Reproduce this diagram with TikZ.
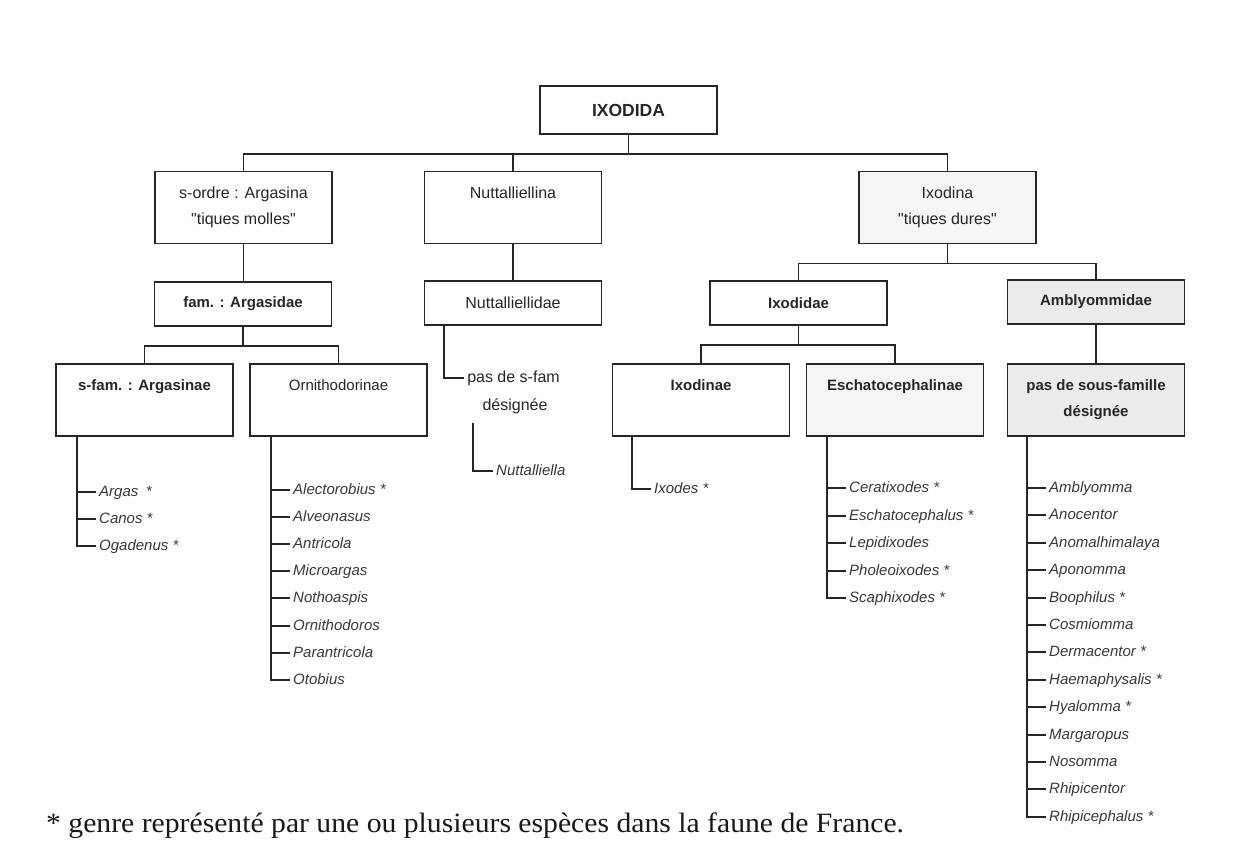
\documentclass[tikz,border=0pt]{standalone}
\usepackage{fontspec}
\setmainfont{Liberation Sans}
\newfontfamily\notefont[FakeStretch=1.06]{Liberation Serif}
\usepackage{tikz}
\usetikzlibrary{positioning,calc}
\tikzstyle{box}=[draw=black!85,line width=1.6pt,minimum width=177pt,minimum height=44pt,align=center,text=black!85,font=\fontsize{16}{26}\selectfont]
\tikzstyle{tall}=[box,minimum height=72pt]
\tikzstyle{heavy}=[font=\fontsize{15}{26}\selectfont\bfseries]
\tikzset{
  link/.style={draw=black!85,line width=1.6pt},
  genus/.style={anchor=west,inner sep=3pt,text=black!78,text height=11pt,text depth=3pt,
    font=\fontsize{15}{18}\selectfont\itshape}
}

\begin{document}
\begin{tikzpicture}[x=1pt,y=-1pt]
    \useasboundingbox [fill=white] (0,0) rectangle (1243,860);

    % boxes
    \node [box,minimum height=48pt,font=\fontsize{17.5}{20}\selectfont\bfseries] (Ixodida) at (628.5,110) {IXODIDA};
    \node [tall] (Argasina) at (243.5,207.5) {s-ordre : Argasina\\\textquotedbl tiques molles\textquotedbl};
    \node [tall] (Nuttalliellina) at (513,207.5) {Nuttalliellina\\\vphantom{p}};
    \node [tall,fill=black!4] (Ixodina) at (947.5,207.5) {Ixodina\\\textquotedbl tiques dures\textquotedbl};
    \node [box,heavy] (Argasidae) at (243,304) {fam. : Argasidae};
    \node [box] (Nuttalliellidae) at (513,303) {Nuttalliellidae};
    \node [box,heavy] (Ixodidae) at (798.5,303) {Ixodidae};
    \node [box,heavy,fill=black!8] (Amblyommidae) at (1096,302) {Amblyommidae};
    \node [tall,heavy] (Argasinae) at (144.5,400) {s-fam. : Argasinae\\\vphantom{p}};
    \node [tall,font=\fontsize{15}{26}\selectfont] (Ornithodorinae) at (338.5,400) {Ornithodorinae\\\vphantom{p}};
    \node [tall,heavy] (Ixodinae) at (701,400) {Ixodinae\\\vphantom{p}};
    \node [tall,heavy,fill=black!4] (Eschatocephalinae) at (895,400) {Eschatocephalinae\\\vphantom{p}};
    \node [tall,heavy,fill=black!8] (Ambsf) at (1096,400) {pas de sous-famille\\désignée};

    % tree
    \coordinate (bar1) at ($(Ixodida.south)+(0,19)$);
    \draw [link] (Ixodida.south) -- (bar1);
    \draw [link] (Argasina.north) |- (bar1) -| (Ixodina.north);
    \draw [link] (Nuttalliellina.north) -- (Nuttalliellina.north |- bar1);
    \draw [link] (Argasina.south) -- (Argasina.south |- Argasidae.north);
    \draw [link] (Nuttalliellina.south) -- (Nuttalliellidae.north);
    \coordinate (bar2) at ($(Argasidae.south)+(0,19)$);
    \draw [link] (Argasidae.south) -- (bar2);
    \draw [link] (Argasinae.north) |- (bar2) -| (Ornithodorinae.north);
    \coordinate (bar3) at ($(Ixodina.south)+(0,19)$);
    \draw [link] (Ixodina.south) -- (bar3);
    \draw [link] (Ixodidae.north) |- (bar3) -| (Amblyommidae.north);
    \coordinate (bar4) at ($(Ixodidae.south)+(0,19)$);
    \draw [link] (Ixodidae.south) -- (bar4);
    \draw [link] (Ixodinae.north) |- (bar4) -| (Eschatocephalinae.north);
    \draw [link] (Amblyommidae.south) -- (Ambsf.north);

    % Nuttalliellidae
    \node [text=black!85,font=\fontsize{16}{20}\selectfont] (nosf) at (513.5,378) {pas de s-fam};
    \node [text=black!85,font=\fontsize{16}{20}\selectfont] (nosfd) at (515,406) {désignée};
    \node [genus] (Nuttalliella) at (493,471) {Nuttalliella};
    \draw [link] ($(Nuttalliellidae.south west)+(20,0)$) |- (nosf.west);
    \draw [link] ($(nosfd.south west)+(-6,6)$) |- (Nuttalliella.west);

    % genera
    \coordinate (t1) at ($(Argasinae.south west)+(22,0)$);
    \node [genus] (Argas) at (96,492) {Argas\enspace *};
    \node [genus] (Canos) at (96,519) {Canos *};
    \node [genus] (Ogadenus) at (96,546) {Ogadenus *};
    \draw [link] (t1) |- (Ogadenus.west)
      (Argas.west) -- (Argas.west -| t1) (Canos.west) -- (Canos.west -| t1);

    \coordinate (t2) at ($(Ornithodorinae.south west)+(22,0)$);
    \node [genus] (Alectorobius) at (290,490) {Alectorobius *};
    \node [genus] (Alveonasus) at (290,517) {Alveonasus};
    \node [genus] (Antricola) at (290,544) {Antricola};
    \node [genus] (Microargas) at (290,571) {Microargas};
    \node [genus] (Nothoaspis) at (290,598) {Nothoaspis};
    \node [genus] (Ornithodoros) at (290,626) {Ornithodoros};
    \node [genus] (Parantricola) at (290,653) {Parantricola};
    \node [genus] (Otobius) at (290,680) {Otobius};
    \draw [link] (t2) |- (Otobius.west)
      (Alectorobius.west) -- (Alectorobius.west -| t2) (Alveonasus.west) -- (Alveonasus.west -| t2)
      (Antricola.west) -- (Antricola.west -| t2) (Microargas.west) -- (Microargas.west -| t2)
      (Nothoaspis.west) -- (Nothoaspis.west -| t2) (Ornithodoros.west) -- (Ornithodoros.west -| t2)
      (Parantricola.west) -- (Parantricola.west -| t2);

    \coordinate (t3) at ($(Ixodinae.south west)+(20,0)$);
    \node [genus] (Ixodes) at (651,489) {Ixodes *};
    \draw [link] (t3) |- (Ixodes.west);

    \coordinate (t4) at ($(Eschatocephalinae.south west)+(21,0)$);
    \node [genus] (Ceratixodes) at (846,488) {Ceratixodes *};
    \node [genus] (Eschatocephalus) at (846,516) {Eschatocephalus *};
    \node [genus] (Lepidixodes) at (846,543) {Lepidixodes};
    \node [genus] (Pholeoixodes) at (846,571) {Pholeoixodes *};
    \node [genus] (Scaphixodes) at (846,598) {Scaphixodes *};
    \draw [link] (t4) |- (Scaphixodes.west)
      (Ceratixodes.west) -- (Ceratixodes.west -| t4) (Eschatocephalus.west) -- (Eschatocephalus.west -| t4)
      (Lepidixodes.west) -- (Lepidixodes.west -| t4) (Pholeoixodes.west) -- (Pholeoixodes.west -| t4);

    \coordinate (t5) at ($(Ambsf.south west)+(20,0)$);
    \node [genus] (Amblyomma) at (1046,488) {Amblyomma};
    \node [genus] (Anocentor) at (1046,515) {Anocentor};
    \node [genus] (Anomalhimalaya) at (1046,543) {Anomalhimalaya};
    \node [genus] (Aponomma) at (1046,570) {Aponomma};
    \node [genus] (Boophilus) at (1046,598) {Boophilus *};
    \node [genus] (Cosmiomma) at (1046,625) {Cosmiomma};
    \node [genus] (Dermacentor) at (1046,652) {Dermacentor *};
    \node [genus] (Haemaphysalis) at (1046,680) {Haemaphysalis *};
    \node [genus] (Hyalomma) at (1046,707) {Hyalomma *};
    \node [genus] (Margaropus) at (1046,735) {Margaropus};
    \node [genus] (Nosomma) at (1046,762) {Nosomma};
    \node [genus] (Rhipicentor) at (1046,789) {Rhipicentor};
    \node [genus] (Rhipicephalus) at (1046,817) {Rhipicephalus *};
    \draw [link] (t5) |- (Rhipicephalus.west)
      (Amblyomma.west) -- (Amblyomma.west -| t5) (Anocentor.west) -- (Anocentor.west -| t5)
      (Anomalhimalaya.west) -- (Anomalhimalaya.west -| t5) (Aponomma.west) -- (Aponomma.west -| t5)
      (Boophilus.west) -- (Boophilus.west -| t5) (Cosmiomma.west) -- (Cosmiomma.west -| t5)
      (Dermacentor.west) -- (Dermacentor.west -| t5) (Haemaphysalis.west) -- (Haemaphysalis.west -| t5)
      (Hyalomma.west) -- (Hyalomma.west -| t5) (Margaropus.west) -- (Margaropus.west -| t5)
      (Nosomma.west) -- (Nosomma.west -| t5) (Rhipicentor.west) -- (Rhipicentor.west -| t5);

    % footnote
    \node [anchor=base west,inner sep=0pt,text=black!90,font=\notefont\fontsize{28}{30}\selectfont] (note) at (46,832) {* genre représenté par une ou plusieurs espèces dans la faune de France.};
\end{tikzpicture}
\end{document}
